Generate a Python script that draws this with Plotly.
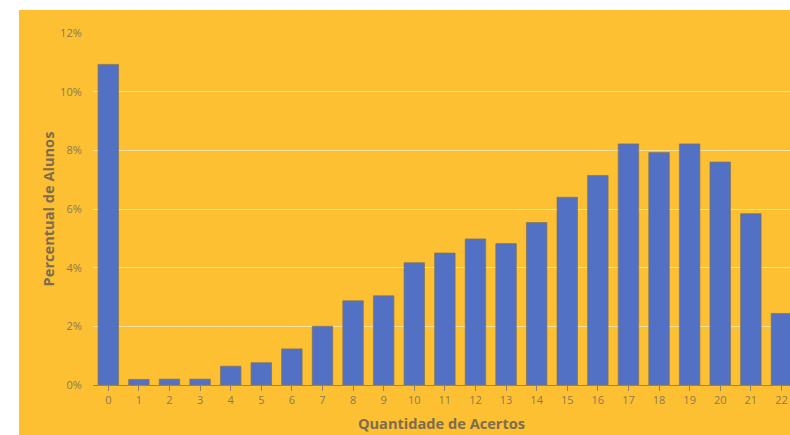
import plotly.graph_objects as go

# Share of students by number of correct answers
acertos = list(range(23))
percentual = [10.93, 0.19, 0.20, 0.20, 0.64, 0.76, 1.23, 2.00, 2.87, 3.04,
              4.17, 4.50, 4.98, 4.82, 5.54, 6.40, 7.14, 8.22, 7.93, 8.22,
              7.60, 5.84, 2.44]
y_ticks = [0, 2, 4, 6, 8, 10, 12]
y_tick_labels = [f"{v}%" for v in y_ticks]

YELLOW = "rgb(253,192,50)"
BAR = "rgb(82,112,196)"
TEXT = "rgb(140,122,85)"
TITLE = "rgb(125,108,80)"
GRID = "rgb(250,226,160)"
FONT = "Open Sans, Noto Sans, sans-serif"

fig = go.Figure(
    go.Bar(
        x=acertos,
        y=percentual,
        marker=dict(color=BAR, line=dict(color="rgba(130,115,90,0.7)", width=1)),
        width=0.67,
    )
)

W, H = 790, 435
ml, mr, mt, mb = 93, 0, 33, 50
pw, ph = W - ml - mr, H - mt - mb

# yellow card behind the chart, leaving a thin white strip left and top
fig.add_shape(
    type="rect", xref="paper", yref="paper", layer="below",
    x0=(19 - ml) / pw, x1=1.0,
    y0=-(mb) / ph, y1=(H - 10 - mb) / ph,
    fillcolor=YELLOW, line=dict(width=0),
)

fig.update_layout(
    width=W, height=H,
    margin=dict(l=ml, r=mr, t=mt, b=mb, pad=0),
    paper_bgcolor="white",
    plot_bgcolor="rgba(0,0,0,0)",
    font=dict(family=FONT, color=TEXT, size=11),
    showlegend=False,
    xaxis=dict(
        range=[-0.5, 22.28],
        tickmode="array", tickvals=acertos, ticktext=[str(a) for a in acertos],
        showgrid=False, zeroline=False,
        showline=True, linecolor="rgb(150,132,95)", linewidth=1,
        ticks="outside", ticklen=5, tickcolor="rgb(150,132,95)",
        tickfont=dict(size=11, color=TEXT),
        title=dict(text="<b>Quantidade de Acertos</b>",
                   font=dict(size=14.6, color=TITLE), standoff=12),
    ),
    yaxis=dict(
        range=[0, 12],
        tickmode="array", tickvals=y_ticks, ticktext=y_tick_labels,
        showgrid=True, gridcolor=GRID, gridwidth=1,
        zeroline=False, showline=False,
        ticks="outside", ticklen=8, tickcolor="rgba(0,0,0,0)",
        tickfont=dict(size=11, color=TEXT),
        title=dict(text="<b>Percentual de Alunos</b>",
                   font=dict(size=14.6, color=TITLE), standoff=2),
    ),
)

fig.write_html("out.html")
